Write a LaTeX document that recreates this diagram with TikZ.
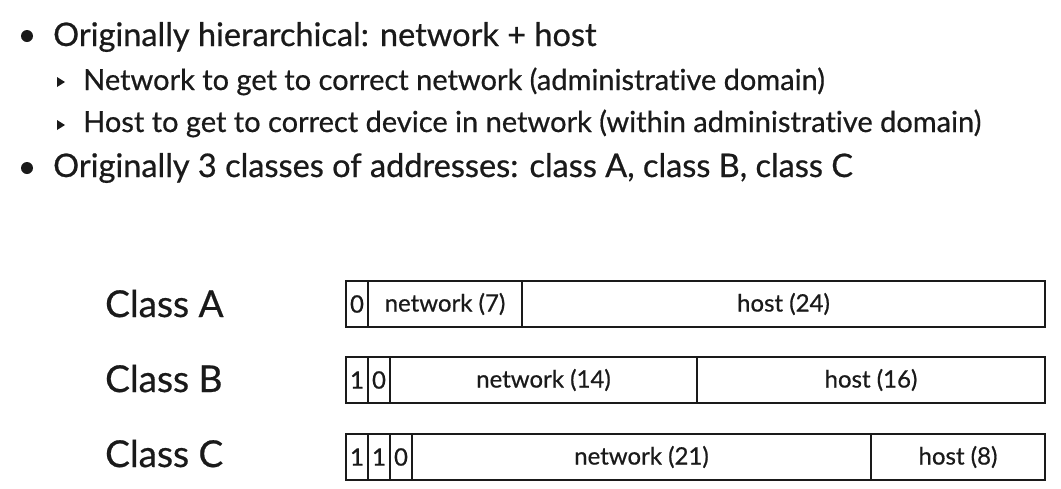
\documentclass[tikz,border=0pt]{standalone}
\usepackage{fontspec}
\setmainfont[Ligatures=NoCommon,FakeBold=0.6]{Lato}
\usetikzlibrary{positioning}
\definecolor{ink}{HTML}{1A1A1A}
\tikzset{
  field/.style={draw=ink, line width=1.8pt, minimum height=46pt, inner sep=0pt,
    outer sep=0pt, text=ink, font=\fontsize{24}{28}\selectfont},
  point/.style={anchor=base west, inner sep=0pt, text=ink, font=\fontsize{32.5}{36}\selectfont},
  subpoint/.style={anchor=base west, inner sep=0pt, text=ink, font=\fontsize{29}{33}\selectfont},
  classname/.style={anchor=base west, inner sep=0pt, text=ink, font=\fontsize{37}{42}\selectfont},
}
\begin{document}
\begin{tikzpicture}[x=1pt,y=-1pt]
\useasboundingbox (0,0) rectangle (1061,488);

% bullet list
\fill[ink] (27,36) circle (6);
\node[point] (p1) at (53,46) {Originally hierarchical: network + host};
\fill[ink] (57,77) -- (65,82) -- (57,87) -- cycle;
\node[subpoint] (s1) at (83,90) {Network to get to correct network (administrative domain)};
\fill[ink] (57,120) -- (65,125) -- (57,130) -- cycle;
\node[subpoint] (s2) at (83,132) {Host to get to correct device in network (within administrative domain)};
\fill[ink] (27,168) circle (6);
\node[point] (p2) at (53,177) {Originally 3 classes of addresses: class A, class B, class C};

% class A
\node[classname] (ca) at (105,317) {Class A};
\node[field, minimum width=22pt, anchor=north west] (a0) at (346,281) {0};
\node[field, minimum width=154pt, right=0pt of a0] (anet) {network (7)};
\node[field, minimum width=523pt, right=0pt of anet] (ahost) {host (24)};

% class B
\node[classname] (cb) at (105,392) {Class B};
\node[field, minimum width=22pt, anchor=north west] (b0) at (346,357) {1};
\node[field, minimum width=22pt, right=0pt of b0] (b1) {0};
\node[field, minimum width=307pt, right=0pt of b1] (bnet) {network (14)};
\node[field, minimum width=348pt, right=0pt of bnet] (bhost) {host (16)};

% class C
\node[classname] (cc) at (105,467) {Class C};
\node[field, minimum width=22pt, anchor=north west] (c0) at (346,434) {1};
\node[field, minimum width=22pt, right=0pt of c0] (c1) {1};
\node[field, minimum width=22pt, right=0pt of c1] (c2) {0};
\node[field, minimum width=459pt, right=0pt of c2] (cnet) {network (21)};
\node[field, minimum width=174pt, right=0pt of cnet] (chost) {host (8)};
\end{tikzpicture}
\end{document}
